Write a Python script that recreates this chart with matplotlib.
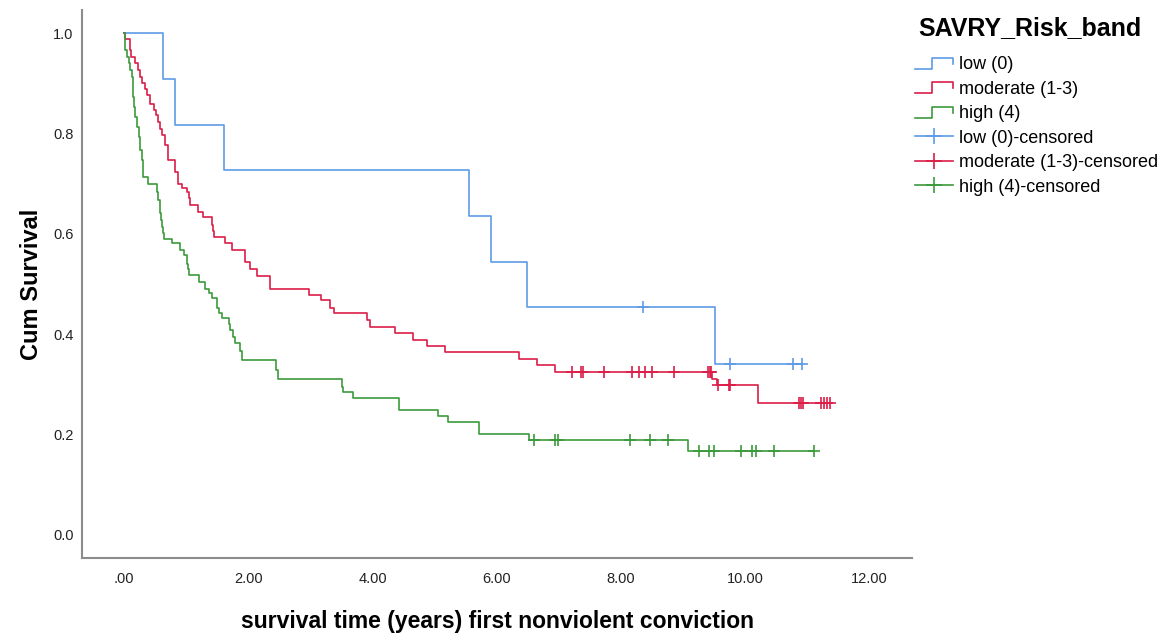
import numpy as np
import matplotlib
matplotlib.use("Agg")
import matplotlib.pyplot as plt
from matplotlib.lines import Line2D
from matplotlib.legend_handler import HandlerBase

plt.rcParams["font.family"] = ["Liberation Sans", "DejaVu Sans"]

# Kaplan-Meier steps: (event time, survival after event)
low_t = [0.62, 0.82, 1.60, 5.545, 5.90, 6.49, 9.51]
low_s = [0.909, 0.818, 0.727, 0.636, 0.545, 0.4545, 0.341]
low_cens = [8.35, 9.76, 10.77, 10.91]

mod_t = [0.016, 0.09, 0.11, 0.166, 0.22, 0.26, 0.285, 0.33, 0.366, 0.42,
         0.48, 0.51, 0.54, 0.58, 0.61, 0.66, 0.70, 0.82, 0.865, 0.93,
         1.01, 1.035, 1.06, 1.19, 1.27, 1.41, 1.43, 1.44, 1.63, 1.73,
         1.95, 2.03, 2.14, 2.35, 2.97, 3.16, 3.32, 3.37, 3.91, 3.96,
         4.36, 4.65, 4.88, 5.17, 6.35, 6.65, 6.93, 9.46, 9.54, 10.20]
mod_s = [0.989, 0.966, 0.953, 0.940, 0.926, 0.913, 0.900, 0.888, 0.876, 0.860,
         0.848, 0.837, 0.823, 0.810, 0.797, 0.777, 0.747, 0.724, 0.700, 0.692,
         0.684, 0.671, 0.657, 0.644, 0.634, 0.618, 0.606, 0.594, 0.581, 0.568,
         0.544, 0.531, 0.516, 0.491, 0.479, 0.468, 0.452, 0.442, 0.428, 0.415,
         0.403, 0.388, 0.376, 0.364, 0.350, 0.339, 0.325, 0.310, 0.299, 0.262]
mod_cens = [7.21, 7.36, 7.39, 7.72, 8.17, 8.28, 8.39, 8.50, 8.85, 9.40, 9.43,
            9.45, 9.56, 9.73, 9.76, 10.86, 10.89, 10.93, 11.22, 11.27, 11.32, 11.36]

high_t = [0.005, 0.02, 0.04, 0.07, 0.10, 0.12, 0.14, 0.147, 0.152, 0.18,
          0.20, 0.23, 0.26, 0.285, 0.30, 0.31, 0.39, 0.53, 0.55, 0.57,
          0.58, 0.595, 0.61, 0.63, 0.645, 0.77, 0.90, 0.955, 1.01, 1.03,
          1.05, 1.21, 1.30, 1.36, 1.41, 1.49, 1.53, 1.57, 1.68, 1.71,
          1.75, 1.79, 1.86, 1.89, 2.45, 2.48, 3.51, 3.53, 3.68, 4.43,
          5.05, 5.22, 5.71, 6.52, 9.08]
high_s = [0.980, 0.966, 0.953, 0.940, 0.926, 0.913, 0.893, 0.873, 0.853, 0.833,
          0.813, 0.793, 0.767, 0.747, 0.730, 0.714, 0.700, 0.684, 0.667, 0.654,
          0.641, 0.627, 0.614, 0.601, 0.589, 0.581, 0.568, 0.558, 0.541, 0.530,
          0.518, 0.505, 0.491, 0.482, 0.472, 0.452, 0.442, 0.432, 0.420, 0.408,
          0.395, 0.383, 0.366, 0.349, 0.329, 0.310, 0.295, 0.285, 0.272, 0.249,
          0.237, 0.226, 0.201, 0.189, 0.168]
high_cens = [6.60, 6.93, 6.99, 8.14, 8.46, 8.75, 9.25, 9.41, 9.49, 9.93,
             10.11, 10.17, 10.46, 11.10]

labels = ["low (0)", "moderate (1-3)", "high (4)"]
colors = ["#5e9be6", "#dc1e48", "#3c9a3c"]
groups = [(low_t, low_s, low_cens), (mod_t, mod_s, mod_cens), (high_t, high_s, high_cens)]


class StepHandler(HandlerBase):
    def create_artists(self, legend, orig_handle, xdescent, ydescent,
                       width, height, fontsize, trans):
        x0 = -xdescent
        y0 = -ydescent
        xs = [x0, x0 + width * 0.45, x0 + width * 0.45, x0 + width, x0 + width]
        ys = [y0 + height * 0.1, y0 + height * 0.1, y0 + height * 0.85,
              y0 + height * 0.85, y0 + height * 0.45]
        ln = Line2D(xs, ys, color=orig_handle.get_color(), lw=1.2)
        ln.set_transform(trans)
        return [ln]


fig = plt.figure(figsize=(11.68, 6.37), dpi=100)
ax = fig.add_axes([0.0702, 0.124, 0.711, 0.860])

step_handles = []
cens_handles = []
for (t, s, c), col, lab in zip(groups, colors, labels):
    end = max(c) if c else t[-1]
    xs = np.concatenate([[0.0], t, [end]])
    ys = np.concatenate([[1.0], s, [s[-1]]])
    ln, = ax.step(xs, ys, where="post", color=col, lw=1.2)
    step_handles.append(ln)
    idx = np.searchsorted(xs[:-1], c, side="right") - 1
    ax.plot(c, ys[idx], ls="none", marker="+", ms=9, mew=1.2, color=col)
    cens_handles.append(Line2D([], [], color=col, lw=1.2, marker="+", ms=12, mew=1.2))

ax.set_xlim(-0.68, 12.69)
ax.set_ylim(-0.046, 1.046)
ax.set_xticks(np.arange(0, 13, 2))
ax.set_xticklabels([".00", "2.00", "4.00", "6.00", "8.00", "10.00", "12.00"])
ax.set_yticks(np.arange(0, 1.01, 0.2))
ax.set_yticklabels(["0.0", "0.2", "0.4", "0.6", "0.8", "1.0"])
ax.tick_params(length=0, labelsize=10.5, colors="#222222", pad=6)
ax.tick_params(axis="x", pad=10)
for side in ["top", "right"]:
    ax.spines[side].set_visible(False)
for side in ["left", "bottom"]:
    ax.spines[side].set_color("#8c8c8c")
    ax.spines[side].set_linewidth(1.5)

ax.set_ylabel("Cum Survival", fontsize=17, fontweight="bold", labelpad=7)
ax.set_xlabel("survival time (years) first nonviolent conviction",
              fontsize=16.5, fontweight="bold", labelpad=17)

fig.text(0.786, 0.956, "SAVRY_Risk_band", fontsize=18, fontweight="bold",
         ha="left", va="center")

handles = step_handles + cens_handles
leg_labels = labels + [l + "-censored" for l in labels]
leg = fig.legend(handles, leg_labels, loc="upper left",
                 bbox_to_anchor=(0.7834, 0.913), frameon=False,
                 borderpad=0, borderaxespad=0,
                 fontsize=13, handlelength=2.1, handleheight=0.9,
                 handletextpad=0.35, labelspacing=0.38,
                 handler_map={h: StepHandler() for h in step_handles})

fig.savefig("out.png", dpi=100)
